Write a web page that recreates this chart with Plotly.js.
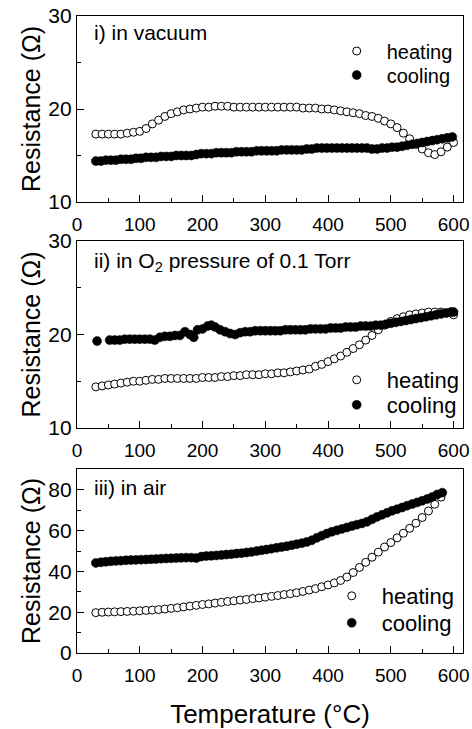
<!DOCTYPE html>
<html>
<head>
<meta charset="utf-8">
<script src="https://cdn.plot.ly/plotly-3.0.1.min.js"></script>
<style>html,body{margin:0;padding:0;background:#fff;}#chart{width:472px;height:729px;}</style>
</head>
<body>
<div id="chart"></div>
<script>
// Panel i) in vacuum
const heatT1 = [30,40,50,60,70,80,90,100,110,120,130,140,150,160,170,180,190,200,210,220,230,240,250,260,270,280,290,300,310,320,330,340,350,360,370,380,390,400,410,420,430,440,450,460,470,480,490,500,510,520,530,540,550,560,570,580,590,600];
const heatR1 = [17.3,17.3,17.3,17.3,17.3,17.4,17.5,17.6,17.9,18.4,18.8,19.2,19.5,19.7,19.9,20.0,20.1,20.2,20.2,20.3,20.3,20.3,20.2,20.2,20.2,20.2,20.2,20.2,20.2,20.2,20.2,20.2,20.2,20.1,20.1,20.1,20.0,20.0,19.9,19.8,19.7,19.6,19.5,19.3,19.2,19.0,18.7,18.4,18.0,17.4,16.8,16.2,15.7,15.3,15.1,15.4,15.9,16.4];
const coolT1 = [30,38,46,54,62,70,78,86,94,102,110,118,126,134,142,150,158,166,174,182,190,198,206,214,222,230,238,246,254,262,270,278,286,294,302,310,318,326,334,342,350,358,366,374,382,390,398,406,414,422,430,438,446,454,462,470,478,486,494,502,510,518,526,534,542,550,558,566,574,582,590,598];
const coolR1 = [14.4,14.4,14.5,14.5,14.5,14.6,14.6,14.6,14.7,14.7,14.8,14.8,14.8,14.9,14.9,14.9,15.0,15.0,15.0,15.0,15.1,15.2,15.2,15.2,15.3,15.3,15.3,15.3,15.4,15.4,15.4,15.4,15.5,15.5,15.5,15.5,15.5,15.6,15.6,15.6,15.6,15.6,15.7,15.7,15.8,15.8,15.8,15.8,15.8,15.8,15.8,15.8,15.8,15.8,15.8,15.7,15.7,15.8,15.8,15.9,15.9,16.0,16.1,16.2,16.3,16.4,16.5,16.6,16.7,16.8,16.9,17.0];

// Panel ii) in O2 pressure of 0.1 Torr
const heatT2 = [30,40,50,60,70,80,90,100,110,120,130,140,150,160,170,180,190,200,210,220,230,240,250,260,270,280,290,300,310,320,330,340,350,360,370,380,390,400,410,420,430,440,450,460,470,480,490,500,510,520,530,540,550,560,570,580,590,600];
const heatR2 = [14.4,14.5,14.6,14.7,14.8,14.9,15.0,15.0,15.1,15.2,15.2,15.3,15.3,15.3,15.3,15.3,15.3,15.4,15.4,15.4,15.5,15.5,15.6,15.6,15.7,15.7,15.7,15.8,15.8,15.9,15.9,16.0,16.1,16.2,16.3,16.6,16.8,17.1,17.4,17.7,18.1,18.5,18.9,19.4,19.9,20.5,21.0,21.4,21.7,21.9,22.1,22.2,22.3,22.4,22.4,22.4,22.3,22.1];
const coolT2 = [32,52,60,68,76,84,92,100,108,116,124,132,140,148,156,164,172,180,186,192,200,208,214,220,228,236,244,252,260,268,276,284,292,300,308,316,324,332,340,348,356,364,372,380,388,396,404,412,420,428,436,444,452,460,468,476,484,492,500,508,516,524,532,540,548,556,564,572,580,588,596,600];
const coolR2 = [19.3,19.4,19.4,19.4,19.5,19.5,19.5,19.5,19.5,19.5,19.4,19.7,19.8,19.8,19.9,19.9,20.3,20.0,19.7,20.5,20.6,20.9,21.0,20.8,20.5,20.3,20.1,20.0,20.2,20.3,20.3,20.4,20.4,20.4,20.4,20.4,20.4,20.5,20.5,20.5,20.5,20.5,20.6,20.6,20.6,20.6,20.7,20.7,20.7,20.8,20.8,20.8,20.9,20.9,20.9,21.0,21.0,21.1,21.2,21.3,21.4,21.5,21.6,21.7,21.8,21.9,22.0,22.1,22.2,22.3,22.4,22.4];

// Panel iii) in air
const heatT3 = [30,40,50,60,70,80,90,100,110,120,130,140,150,160,170,180,190,200,210,220,230,240,250,260,270,280,290,300,310,320,330,340,350,360,370,380,390,400,410,420,430,440,450,460,470,480,490,500,510,520,530,540,550,560,570,580];
const heatR3 = [19.8,20.0,20.1,20.2,20.3,20.4,20.5,20.7,20.9,21.1,21.3,21.6,21.9,22.2,22.6,23.0,23.4,23.8,24.1,24.5,24.9,25.3,25.6,26.0,26.3,26.7,27.0,27.4,27.8,28.2,28.7,29.1,29.6,30.2,30.9,31.6,32.5,33.4,34.4,35.6,37.3,39.5,42.0,44.5,47.0,49.5,52.0,54.2,56.5,58.8,61.2,63.7,66.5,69.7,73.0,76.5];
const coolT3 = [30,38,46,54,62,70,78,86,94,102,110,118,126,134,142,150,158,166,174,182,190,198,206,214,222,230,238,246,254,262,270,278,286,294,302,310,318,326,334,342,350,358,366,374,382,390,398,406,414,422,430,438,446,454,462,470,478,486,494,502,510,518,526,534,542,550,558,566,574,582];
const coolR3 = [44.2,44.5,44.8,45.0,45.2,45.3,45.5,45.6,45.7,45.8,45.9,46.0,46.1,46.3,46.4,46.5,46.6,46.7,46.8,46.8,46.6,47.3,47.6,47.7,47.9,48.1,48.3,48.5,48.8,49.0,49.3,49.6,50.0,50.4,50.8,51.2,51.6,52.0,52.4,52.9,53.4,53.9,54.5,55.3,56.5,57.6,58.6,59.5,60.2,60.9,61.6,62.3,63.0,63.6,64.4,65.6,66.8,67.8,68.8,69.8,70.6,71.4,72.3,73.1,73.9,74.7,75.6,76.6,77.8,78.7];

const panelLabels = ['i) in vacuum', 'ii) in O<sub>2</sub> pressure of 0.1 Torr', 'iii) in air'];
const xTicks = [0,100,200,300,400,500,600];
const seriesNames = ['heating', 'cooling'];
const yTitle = 'Resistance (\u03A9)';
const xTitle = 'Temperature (\u00B0C)';

const FONT = 'Liberation Sans, Arial, Helvetica, sans-serif';
const heatMarker = {symbol:'circle', size:8, color:'#ffffff', line:{color:'#000', width:1}};
const coolMarker = {symbol:'circle', size:9, color:'#000000', line:{color:'#000', width:0.5}};

const data = [];
const sets = [[heatT1,heatR1,coolT1,coolR1],[heatT2,heatR2,coolT2,coolR2],[heatT3,heatR3,coolT3,coolR3]];
const legNames = ['legend2','legend3','legend4','legend5','legend6','legend7'];
sets.forEach((s,i)=>{
  const ax = i===0 ? '' : String(i+1);
  data.push({x:s[0], y:s[1], type:'scatter', mode:'markers', name:seriesNames[0], marker:heatMarker, xaxis:'x'+ax, yaxis:'y'+ax, legend:legNames[2*i], showlegend:true});
  data.push({x:s[2], y:s[3], type:'scatter', mode:'markers', name:seriesNames[1], marker:coolMarker, xaxis:'x'+ax, yaxis:'y'+ax, legend:legNames[2*i+1], showlegend:true});
});

// plot area: left 77, right 465, top 16, bottom 653
const H = 637, W = 388, pl = 77;
const pb = 653;
const toP = px => (pb - px)/H;
const toX = px => (px - pl)/W;
const doms = [[toP(202), 1], [toP(428), toP(241)], [0, toP(469)]];

function xa(i){
  const o = {
    domain:[0,1], range:[0,615], anchor: i===0?'y':'y'+(i+1),
    tickvals:xTicks, ticktext:xTicks.map(String),
    ticks:'inside', ticklen:7, tickwidth:1, tickcolor:'#000',
    minor:{dtick:50, tick0:0, ticks:'inside', ticklen:4, tickcolor:'#000', showgrid:false},
    showline:true, linecolor:'#000', linewidth:1.2, mirror:true,
    showgrid:false, zeroline:false, ticklabelstandoff:5,
    tickfont:{family:FONT, size:19, color:'#000'}
  };
  if (i===2) o.title = {text:xTitle, font:{family:FONT, size:26, color:'#000'}, standoff:22};
  return o;
}
function ya(i){
  const isAir = i===2;
  return {
    domain:doms[i], anchor: i===0?'x':'x'+(i+1),
    range: isAir ? [0,90.3] : [10,30],
    dtick: isAir ? 20 : 10, tick0:0,
    ticks:'inside', ticklen:7, tickwidth:1, tickcolor:'#000',
    minor:{dtick: isAir?10:5, tick0:0, ticks:'inside', ticklen:4, tickcolor:'#000', showgrid:false},
    showline:true, linecolor:'#000', linewidth:1.2, mirror:true,
    showgrid:false, zeroline:false,
    tickfont:{family:FONT, size:21, color:'#000'},
    title:{text:yTitle, font:{family:FONT, size:25, color:'#000'}, standoff:0}
  };
}

const legBase = {orientation:'v', bgcolor:'rgba(0,0,0,0)', borderwidth:0, font:{family:FONT, size:22, color:'#000'}, xanchor:'left', yanchor:'middle', itemwidth:50, itemsizing:'trace', visible:true};
// legend row centres (px), symbol x (px) and font size
const legRows = [[358,51,20],[358,75,20],[358,380,22],[358,405,22],[353,596,22],[353,623,22]];
const layout = {
  width:472, height:729,
  margin:{l:77, r:7, t:16, b:76},
  paper_bgcolor:'#fff', plot_bgcolor:'#fff',
  font:{family:FONT, color:'#000'},
  showlegend:true,
  xaxis:xa(0), xaxis2:xa(1), xaxis3:xa(2),
  yaxis:ya(0), yaxis2:ya(1), yaxis3:ya(2),
  annotations: panelLabels.map((t,i)=>({
    text:t, xref:'paper', yref:'paper', x:toX(92), y:toP([32,262,487][i]),
    xanchor:'left', yanchor:'middle', showarrow:false,
    font:{family:FONT, size:21, color:'#000'}
  }))
};
legRows.forEach((r,k)=>{
  layout[legNames[k]] = Object.assign({}, legBase, {x:toX(r[0]-30), y:toP(r[1]), font:{family:FONT, size:r[2], color:'#000'}});
});

Plotly.newPlot('chart', data, layout, {staticPlot:true, displayModeBar:false});
</script>
</body>
</html>
